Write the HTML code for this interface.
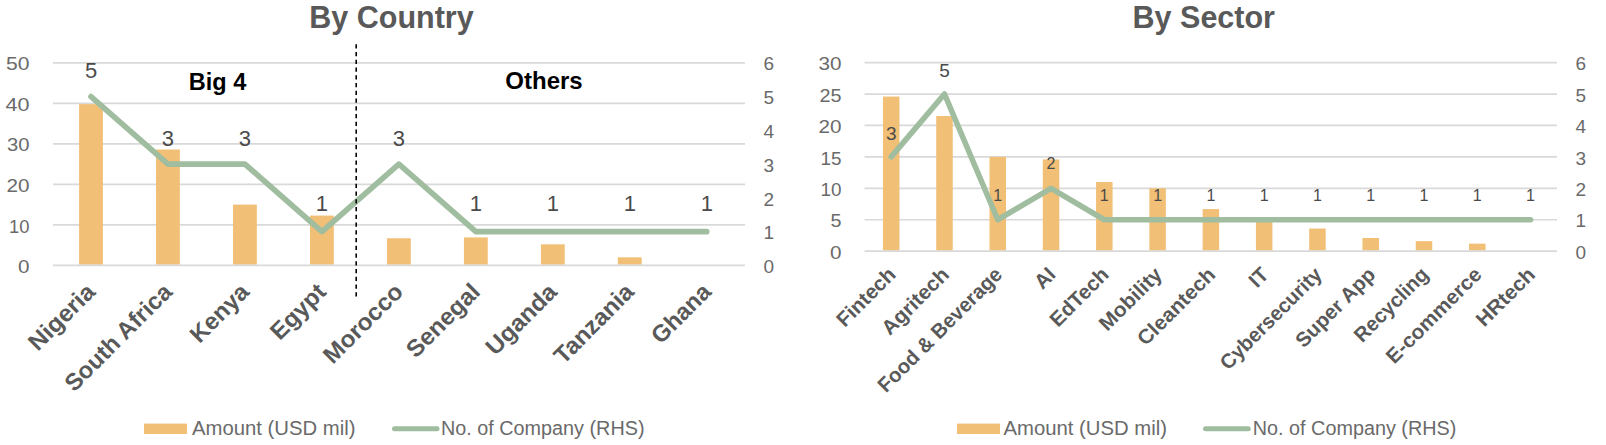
<!DOCTYPE html>
<html><head><meta charset="utf-8"><title>By Country / By Sector</title>
<style>
html,body{margin:0;padding:0;background:#fff;}
body{width:1606px;height:445px;overflow:hidden;}
svg{display:block;font-family:'Liberation Sans', Arial, sans-serif;}
</style></head><body>
<svg width="1606" height="445" viewBox="0 0 1606 445">
<rect width="1606" height="445" fill="#fff"/>
<text x="391.5" y="28.4" text-anchor="middle" font-size="30.5" font-weight="bold" fill="#595959">By Country</text>
<text x="1203.8" y="28.4" text-anchor="middle" font-size="30.5" font-weight="bold" fill="#595959">By Sector</text>
<text x="29.5" y="266.40" dy="0.35em" text-anchor="end" font-size="19" fill="#6a6a6a" textLength="11.5" lengthAdjust="spacingAndGlyphs">0</text>
<line x1="53" x2="745" y1="224.88" y2="224.88" stroke="#D9D9D9" stroke-width="1.7"/>
<text x="29.5" y="225.88" dy="0.35em" text-anchor="end" font-size="19" fill="#6a6a6a" textLength="20.5" lengthAdjust="spacingAndGlyphs">10</text>
<line x1="53" x2="745" y1="184.36" y2="184.36" stroke="#D9D9D9" stroke-width="1.7"/>
<text x="29.5" y="185.36" dy="0.35em" text-anchor="end" font-size="19" fill="#6a6a6a" textLength="23" lengthAdjust="spacingAndGlyphs">20</text>
<line x1="53" x2="745" y1="143.84" y2="143.84" stroke="#D9D9D9" stroke-width="1.7"/>
<text x="29.5" y="144.84" dy="0.35em" text-anchor="end" font-size="19" fill="#6a6a6a" textLength="22.5" lengthAdjust="spacingAndGlyphs">30</text>
<line x1="53" x2="745" y1="103.32" y2="103.32" stroke="#D9D9D9" stroke-width="1.7"/>
<text x="29.5" y="104.32" dy="0.35em" text-anchor="end" font-size="19" fill="#6a6a6a" textLength="24" lengthAdjust="spacingAndGlyphs">40</text>
<line x1="53" x2="745" y1="62.80" y2="62.80" stroke="#D9D9D9" stroke-width="1.7"/>
<text x="29.5" y="63.80" dy="0.35em" text-anchor="end" font-size="19" fill="#6a6a6a" textLength="23.5" lengthAdjust="spacingAndGlyphs">50</text>
<text x="763.5" y="266.40" dy="0.35em" text-anchor="start" font-size="19" fill="#6a6a6a">0</text>
<text x="763.5" y="232.63" dy="0.35em" text-anchor="start" font-size="19" fill="#6a6a6a">1</text>
<text x="763.5" y="198.87" dy="0.35em" text-anchor="start" font-size="19" fill="#6a6a6a">2</text>
<text x="763.5" y="165.10" dy="0.35em" text-anchor="start" font-size="19" fill="#6a6a6a">3</text>
<text x="763.5" y="131.33" dy="0.35em" text-anchor="start" font-size="19" fill="#6a6a6a">4</text>
<text x="763.5" y="97.57" dy="0.35em" text-anchor="start" font-size="19" fill="#6a6a6a">5</text>
<text x="763.5" y="63.80" dy="0.35em" text-anchor="start" font-size="19" fill="#6a6a6a">6</text>
<rect x="79.09" y="104.13" width="23.8" height="160.57" fill="#F1BF75"/>
<rect x="156.06" y="149.51" width="23.8" height="115.19" fill="#F1BF75"/>
<rect x="233.03" y="204.62" width="23.8" height="60.08" fill="#F1BF75"/>
<rect x="310.00" y="215.56" width="23.8" height="49.14" fill="#F1BF75"/>
<rect x="386.98" y="238.25" width="23.8" height="26.45" fill="#F1BF75"/>
<rect x="463.94" y="237.44" width="23.8" height="27.26" fill="#F1BF75"/>
<rect x="540.92" y="244.33" width="23.8" height="20.37" fill="#F1BF75"/>
<rect x="617.88" y="257.30" width="23.8" height="7.40" fill="#F1BF75"/>
<line x1="53" x2="745" y1="265.40" y2="265.40" stroke="#D9D9D9" stroke-width="1.7"/>
<polyline points="91.00,96.57 167.97,164.10 244.94,164.10 321.90,231.63 398.88,164.10 475.84,231.63 552.82,231.63 629.78,231.63 706.75,231.63" fill="none" stroke="#A0BD9F" stroke-width="5.6" stroke-linejoin="round" stroke-linecap="round"/>
<text x="91.00" y="78.17" text-anchor="middle" font-size="22" fill="#4a4a4a">5</text>
<text x="167.97" y="146.00" text-anchor="middle" font-size="22" fill="#4a4a4a">3</text>
<text x="244.94" y="146.00" text-anchor="middle" font-size="22" fill="#4a4a4a">3</text>
<text x="321.90" y="211.43" text-anchor="middle" font-size="22" fill="#4a4a4a">1</text>
<text x="398.88" y="146.00" text-anchor="middle" font-size="22" fill="#4a4a4a">3</text>
<text x="475.84" y="211.43" text-anchor="middle" font-size="22" fill="#4a4a4a">1</text>
<text x="552.82" y="211.43" text-anchor="middle" font-size="22" fill="#4a4a4a">1</text>
<text x="629.78" y="211.43" text-anchor="middle" font-size="22" fill="#4a4a4a">1</text>
<text x="706.75" y="211.43" text-anchor="middle" font-size="22" fill="#4a4a4a">1</text>
<text transform="translate(96.59,293.3) rotate(-45)" text-anchor="end" font-size="23.7" font-weight="bold" fill="#595959" textLength="83.2" lengthAdjust="spacingAndGlyphs">Nigeria</text>
<text transform="translate(173.56,293.3) rotate(-45)" text-anchor="end" font-size="23.7" font-weight="bold" fill="#595959" textLength="140.6" lengthAdjust="spacingAndGlyphs">South Africa</text>
<text transform="translate(250.53,293.3) rotate(-45)" text-anchor="end" font-size="23.7" font-weight="bold" fill="#595959" textLength="72.1" lengthAdjust="spacingAndGlyphs">Kenya</text>
<text transform="translate(327.50,293.3) rotate(-45)" text-anchor="end" font-size="23.7" font-weight="bold" fill="#595959" textLength="67.7" lengthAdjust="spacingAndGlyphs">Egypt</text>
<text transform="translate(404.48,293.3) rotate(-45)" text-anchor="end" font-size="23.7" font-weight="bold" fill="#595959" textLength="101.3" lengthAdjust="spacingAndGlyphs">Morocco</text>
<text transform="translate(481.44,293.3) rotate(-45)" text-anchor="end" font-size="23.7" font-weight="bold" fill="#595959" textLength="93.0" lengthAdjust="spacingAndGlyphs">Senegal</text>
<text transform="translate(558.42,293.3) rotate(-45)" text-anchor="end" font-size="23.7" font-weight="bold" fill="#595959" textLength="89.4" lengthAdjust="spacingAndGlyphs">Uganda</text>
<text transform="translate(635.38,293.3) rotate(-45)" text-anchor="end" font-size="23.7" font-weight="bold" fill="#595959" textLength="101.7" lengthAdjust="spacingAndGlyphs">Tanzania</text>
<text transform="translate(712.36,293.3) rotate(-45)" text-anchor="end" font-size="23.7" font-weight="bold" fill="#595959" textLength="73.0" lengthAdjust="spacingAndGlyphs">Ghana</text>
<text x="841.5" y="252.20" dy="0.35em" text-anchor="end" font-size="19" fill="#6a6a6a" textLength="11.5" lengthAdjust="spacingAndGlyphs">0</text>
<line x1="864.6" x2="1557" y1="219.77" y2="219.77" stroke="#D9D9D9" stroke-width="1.7"/>
<text x="841.5" y="220.77" dy="0.35em" text-anchor="end" font-size="19" fill="#6a6a6a" textLength="11" lengthAdjust="spacingAndGlyphs">5</text>
<line x1="864.6" x2="1557" y1="188.33" y2="188.33" stroke="#D9D9D9" stroke-width="1.7"/>
<text x="841.5" y="189.33" dy="0.35em" text-anchor="end" font-size="19" fill="#6a6a6a" textLength="21" lengthAdjust="spacingAndGlyphs">10</text>
<line x1="864.6" x2="1557" y1="156.90" y2="156.90" stroke="#D9D9D9" stroke-width="1.7"/>
<text x="841.5" y="157.90" dy="0.35em" text-anchor="end" font-size="19" fill="#6a6a6a" textLength="21" lengthAdjust="spacingAndGlyphs">15</text>
<line x1="864.6" x2="1557" y1="125.47" y2="125.47" stroke="#D9D9D9" stroke-width="1.7"/>
<text x="841.5" y="126.47" dy="0.35em" text-anchor="end" font-size="19" fill="#6a6a6a" textLength="23" lengthAdjust="spacingAndGlyphs">20</text>
<line x1="864.6" x2="1557" y1="94.03" y2="94.03" stroke="#D9D9D9" stroke-width="1.7"/>
<text x="841.5" y="95.03" dy="0.35em" text-anchor="end" font-size="19" fill="#6a6a6a" textLength="22" lengthAdjust="spacingAndGlyphs">25</text>
<line x1="864.6" x2="1557" y1="62.60" y2="62.60" stroke="#D9D9D9" stroke-width="1.7"/>
<text x="841.5" y="63.60" dy="0.35em" text-anchor="end" font-size="19" fill="#6a6a6a" textLength="23" lengthAdjust="spacingAndGlyphs">30</text>
<text x="1575.5" y="252.20" dy="0.35em" text-anchor="start" font-size="19" fill="#6a6a6a">0</text>
<text x="1575.5" y="220.77" dy="0.35em" text-anchor="start" font-size="19" fill="#6a6a6a">1</text>
<text x="1575.5" y="189.33" dy="0.35em" text-anchor="start" font-size="19" fill="#6a6a6a">2</text>
<text x="1575.5" y="157.90" dy="0.35em" text-anchor="start" font-size="19" fill="#6a6a6a">3</text>
<text x="1575.5" y="126.47" dy="0.35em" text-anchor="start" font-size="19" fill="#6a6a6a">4</text>
<text x="1575.5" y="95.03" dy="0.35em" text-anchor="start" font-size="19" fill="#6a6a6a">5</text>
<text x="1575.5" y="63.60" dy="0.35em" text-anchor="start" font-size="19" fill="#6a6a6a">6</text>
<rect x="882.95" y="96.55" width="16.5" height="153.95" fill="#F1BF75"/>
<rect x="936.23" y="116.04" width="16.5" height="134.46" fill="#F1BF75"/>
<rect x="989.51" y="156.90" width="16.5" height="93.60" fill="#F1BF75"/>
<rect x="1042.79" y="159.41" width="16.5" height="91.09" fill="#F1BF75"/>
<rect x="1096.07" y="182.05" width="16.5" height="68.45" fill="#F1BF75"/>
<rect x="1149.35" y="188.33" width="16.5" height="62.17" fill="#F1BF75"/>
<rect x="1202.63" y="209.08" width="16.5" height="41.42" fill="#F1BF75"/>
<rect x="1255.91" y="218.51" width="16.5" height="31.99" fill="#F1BF75"/>
<rect x="1309.19" y="228.57" width="16.5" height="21.93" fill="#F1BF75"/>
<rect x="1362.47" y="238.00" width="16.5" height="12.50" fill="#F1BF75"/>
<rect x="1415.75" y="241.14" width="16.5" height="9.36" fill="#F1BF75"/>
<rect x="1469.03" y="243.66" width="16.5" height="6.84" fill="#F1BF75"/>
<line x1="864.6" x2="1557" y1="251.20" y2="251.20" stroke="#D9D9D9" stroke-width="1.7"/>
<polyline points="891.20,156.90 944.48,94.03 997.76,219.77 1051.04,188.33 1104.32,219.77 1157.60,219.77 1210.88,219.77 1264.16,219.77 1317.44,219.77 1370.72,219.77 1424.00,219.77 1477.28,219.77 1530.56,219.77" fill="none" stroke="#A0BD9F" stroke-width="5.6" stroke-linejoin="round" stroke-linecap="round"/>
<text x="891.20" y="140.40" text-anchor="middle" font-size="19" fill="#4a4a4a">3</text>
<text x="944.48" y="76.78" text-anchor="middle" font-size="19" fill="#4a4a4a">5</text>
<text x="997.76" y="200.57" text-anchor="middle" font-size="16" fill="#4a4a4a">1</text>
<text x="1051.04" y="169.13" text-anchor="middle" font-size="16" fill="#4a4a4a">2</text>
<text x="1104.32" y="200.57" text-anchor="middle" font-size="16" fill="#4a4a4a">1</text>
<text x="1157.60" y="200.57" text-anchor="middle" font-size="16" fill="#4a4a4a">1</text>
<text x="1210.88" y="200.57" text-anchor="middle" font-size="16" fill="#4a4a4a">1</text>
<text x="1264.16" y="200.57" text-anchor="middle" font-size="16" fill="#4a4a4a">1</text>
<text x="1317.44" y="200.57" text-anchor="middle" font-size="16" fill="#4a4a4a">1</text>
<text x="1370.72" y="200.57" text-anchor="middle" font-size="16" fill="#4a4a4a">1</text>
<text x="1424.00" y="200.57" text-anchor="middle" font-size="16" fill="#4a4a4a">1</text>
<text x="1477.28" y="200.57" text-anchor="middle" font-size="16" fill="#4a4a4a">1</text>
<text x="1530.56" y="200.57" text-anchor="middle" font-size="16" fill="#4a4a4a">1</text>
<text transform="translate(897.00,275.8) rotate(-45)" text-anchor="end" font-size="20.5" font-weight="bold" fill="#595959" textLength="73.8" lengthAdjust="spacingAndGlyphs">Fintech</text>
<text transform="translate(950.28,275.8) rotate(-45)" text-anchor="end" font-size="20.5" font-weight="bold" fill="#595959" textLength="85.6" lengthAdjust="spacingAndGlyphs">Agritech</text>
<text transform="translate(1003.56,275.8) rotate(-45)" text-anchor="end" font-size="20.5" font-weight="bold" fill="#595959" textLength="166.3" lengthAdjust="spacingAndGlyphs">Food &amp; Beverage</text>
<text transform="translate(1056.84,275.8) rotate(-45)" text-anchor="end" font-size="20.5" font-weight="bold" fill="#595959" textLength="20.4" lengthAdjust="spacingAndGlyphs">AI</text>
<text transform="translate(1110.12,275.8) rotate(-45)" text-anchor="end" font-size="20.5" font-weight="bold" fill="#595959" textLength="73.7" lengthAdjust="spacingAndGlyphs">EdTech</text>
<text transform="translate(1163.40,275.8) rotate(-45)" text-anchor="end" font-size="20.5" font-weight="bold" fill="#595959" textLength="79.5" lengthAdjust="spacingAndGlyphs">Mobility</text>
<text transform="translate(1216.68,275.8) rotate(-45)" text-anchor="end" font-size="20.5" font-weight="bold" fill="#595959" textLength="100.5" lengthAdjust="spacingAndGlyphs">Cleantech</text>
<text transform="translate(1269.96,275.8) rotate(-45)" text-anchor="end" font-size="20.5" font-weight="bold" fill="#595959" textLength="18.4" lengthAdjust="spacingAndGlyphs">IT</text>
<text transform="translate(1323.24,275.8) rotate(-45)" text-anchor="end" font-size="20.5" font-weight="bold" fill="#595959" textLength="134.5" lengthAdjust="spacingAndGlyphs">Cybersecurity</text>
<text transform="translate(1376.52,275.8) rotate(-45)" text-anchor="end" font-size="20.5" font-weight="bold" fill="#595959" textLength="103.0" lengthAdjust="spacingAndGlyphs">Super App</text>
<text transform="translate(1429.80,275.8) rotate(-45)" text-anchor="end" font-size="20.5" font-weight="bold" fill="#595959" textLength="95.6" lengthAdjust="spacingAndGlyphs">Recycling</text>
<text transform="translate(1483.08,275.8) rotate(-45)" text-anchor="end" font-size="20.5" font-weight="bold" fill="#595959" textLength="125.7" lengthAdjust="spacingAndGlyphs">E-commerce</text>
<text transform="translate(1536.36,275.8) rotate(-45)" text-anchor="end" font-size="20.5" font-weight="bold" fill="#595959" textLength="73.6" lengthAdjust="spacingAndGlyphs">HRtech</text>
<line x1="356.2" x2="356.2" y1="44.2" y2="296.6" stroke="#000" stroke-width="1.6" stroke-dasharray="4.2 3.553"/>
<text x="217.6" y="90" text-anchor="middle" font-size="23.5" font-weight="bold" fill="#000">Big 4</text>
<text x="544" y="88.5" text-anchor="middle" font-size="24" font-weight="bold" fill="#000">Others</text>
<rect x="144" y="423.6" width="43" height="10.4" fill="#F1BF75"/>
<text x="192" y="435" font-size="20" fill="#6a6a6a" textLength="163.5" lengthAdjust="spacingAndGlyphs">Amount (USD mil)</text>
<line x1="394.5" x2="437" y1="428.8" y2="428.8" stroke="#A0BD9F" stroke-width="5" stroke-linecap="round"/>
<text x="441" y="435" font-size="20" fill="#6a6a6a" textLength="203.5" lengthAdjust="spacingAndGlyphs">No. of Company (RHS)</text>
<rect x="957" y="423.6" width="43" height="10.4" fill="#F1BF75"/>
<text x="1003.5" y="435" font-size="20" fill="#6a6a6a" textLength="163.5" lengthAdjust="spacingAndGlyphs">Amount (USD mil)</text>
<line x1="1205.5" x2="1248.3" y1="428.8" y2="428.8" stroke="#A0BD9F" stroke-width="5" stroke-linecap="round"/>
<text x="1252.8" y="435" font-size="20" fill="#6a6a6a" textLength="203.5" lengthAdjust="spacingAndGlyphs">No. of Company (RHS)</text>
</svg>
</body></html>
